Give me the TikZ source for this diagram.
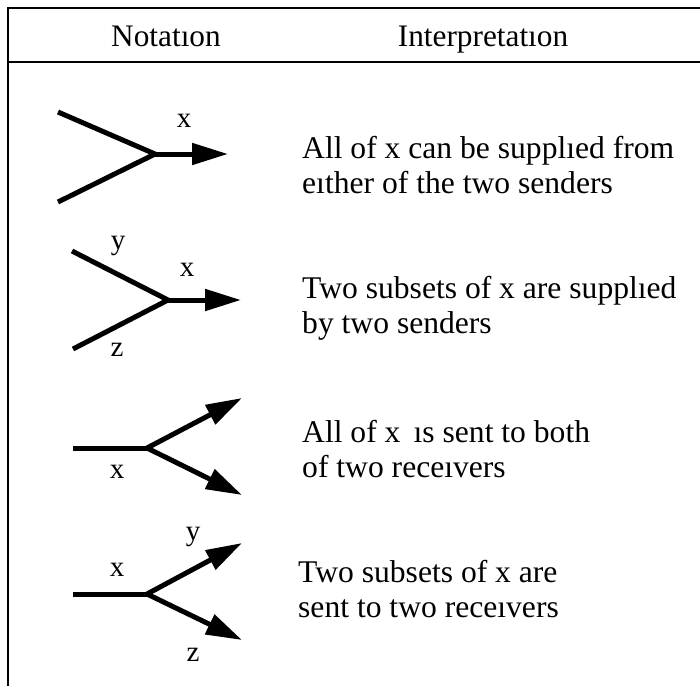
\documentclass[tikz,border=0pt]{standalone}
\usepackage{fontspec}
\setmainfont{Liberation Serif}
\usetikzlibrary{arrows.meta}
\tikzset{
  rule/.style={line width=2.4pt},
  branch/.style={line width=5pt, line cap=butt},
  flow/.style={branch, -{Triangle[length=36pt,width=21pt]}},
  head/.style={font=\fontsize{31.3}{36}\selectfont, inner sep=0pt, anchor=base},
  tag/.style={font=\fontsize{29}{34}\selectfont, inner sep=0pt},
  note/.style={font=\fontsize{31.6}{35.5}\selectfont, inner sep=0pt, align=left, anchor=north west},
}
\begin{document}
\begin{tikzpicture}[x=1pt,y=-1pt]
  \useasboundingbox (0,0) rectangle (700,686);
  % Table frame
  \draw[rule] (700,8) -- (8,8) -- (8,686);
  \draw[rule] (8,62) -- (700,62);
  % Column heads
  \node[head] (notation) at (166,46) {Notatıon};
  \node[head] (interp) at (483,46) {Interpretatıon};

  % Row 1: two senders, one flow
  \coordinate (a1) at (58,112);
  \coordinate (b1) at (58,202);
  \coordinate (j1) at (155,154);
  \coordinate (e1) at (228,154);
  \draw[branch] (a1) -- (j1) -- (b1);
  \draw[flow] (j1) -- (e1);
  \node[tag] (x1) at (184,121) {x};
  \node[note] (t1) at (302,136) {All of x can be supplıed from\\eıther of the two senders};

  % Row 2: two senders, two subsets
  \coordinate (a2) at (72,251);
  \coordinate (b2) at (73,349);
  \coordinate (j2) at (168,300);
  \coordinate (e2) at (241,300);
  \draw[branch] (a2) -- (j2) -- (b2);
  \draw[flow] (j2) -- (e2);
  \node[tag] (y2) at (118,246) {y};
  \node[tag] (x2) at (187,270) {x};
  \node[tag] (z2) at (117,350) {z};
  \node[note] (t2) at (302,276) {Two subsets of x are supplıed\\by two senders};

  % Row 3: one flow, two receivers
  \coordinate (s3) at (73,448);
  \coordinate (j3) at (147,448);
  \coordinate (u3) at (242,398);
  \coordinate (d3) at (242,495);
  \draw[branch] (s3) -- (j3);
  \draw[flow] (j3) -- (u3);
  \draw[flow] (j3) -- (d3);
  \node[tag] (x3) at (117,472) {x};
  \node[note] (t3) at (302,420) {All of x\, ıs sent to both\\ of two receıvers};

  % Row 4: two subsets, two receivers
  \coordinate (s4) at (73,594);
  \coordinate (j4) at (147,594);
  \coordinate (u4) at (242,543);
  \coordinate (d4) at (242,640);
  \draw[branch] (s4) -- (j4);
  \draw[flow] (j4) -- (u4);
  \draw[flow] (j4) -- (d4);
  \node[tag] (x4) at (117,570) {x};
  \node[tag] (y4) at (193,537) {y};
  \node[tag] (z4) at (193,655) {z};
  \node[note] (t4) at (298,560) {Two subsets of x are\\sent to two receıvers};
\end{tikzpicture}
\end{document}
